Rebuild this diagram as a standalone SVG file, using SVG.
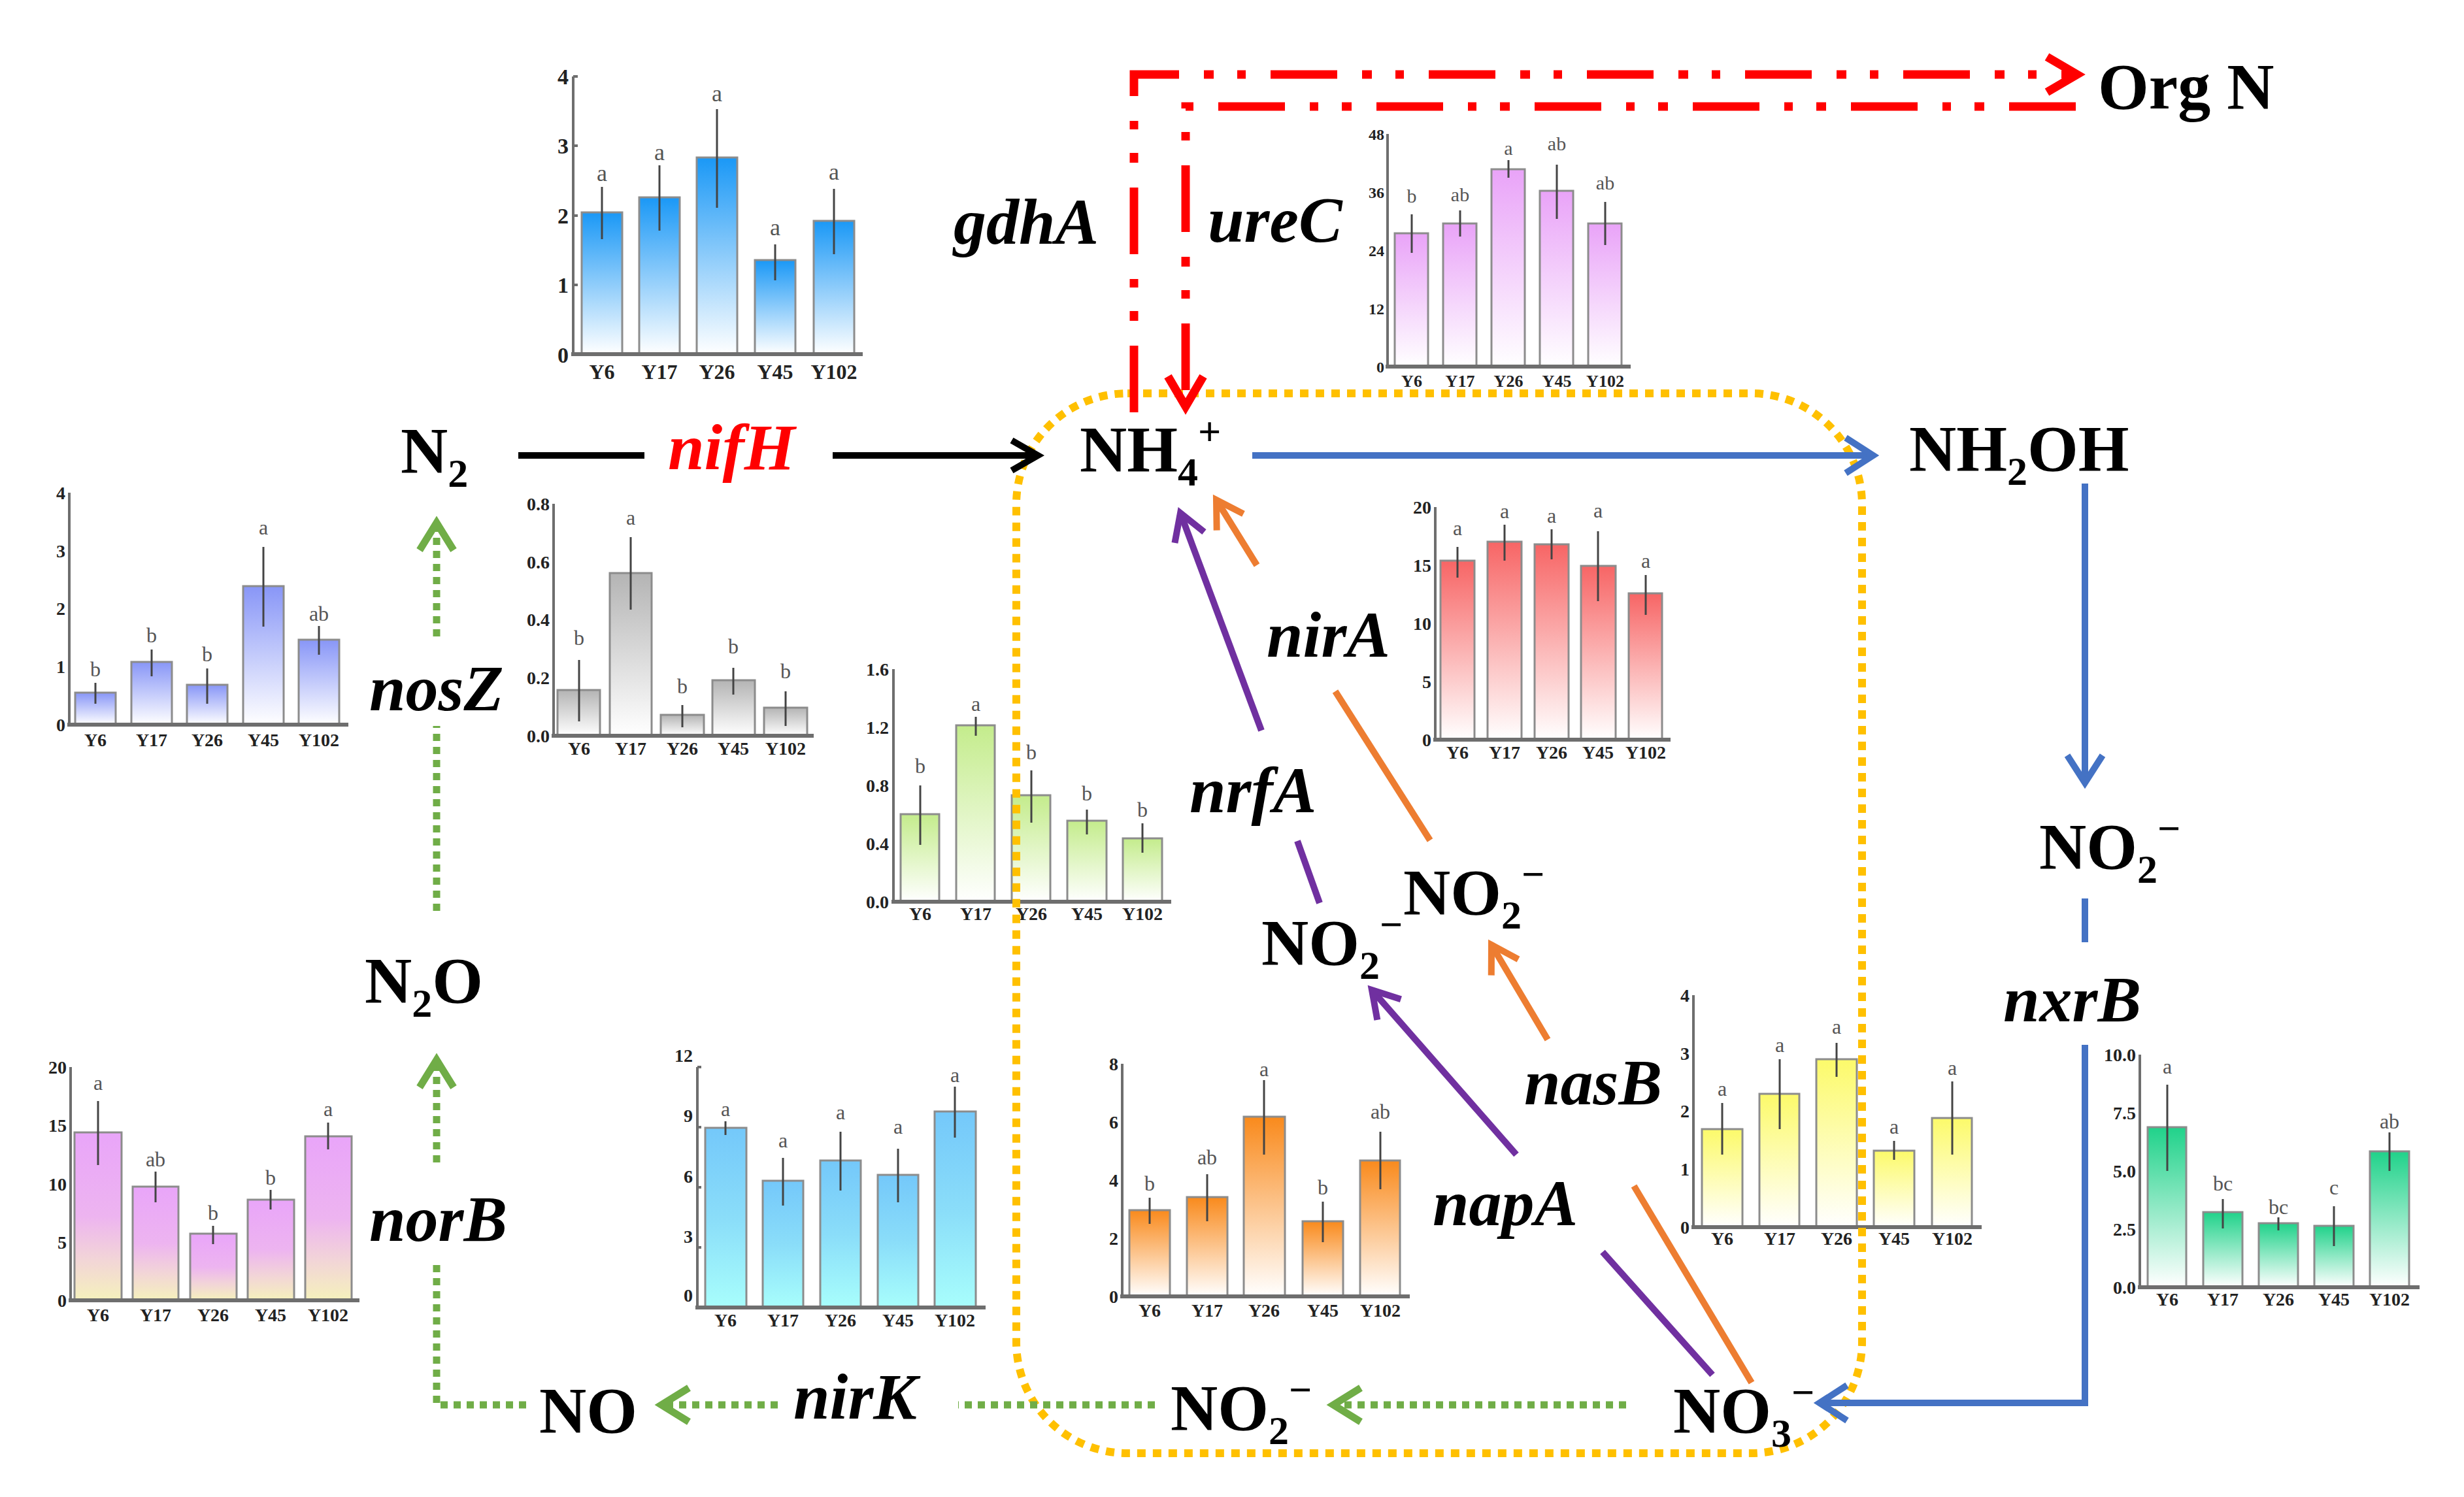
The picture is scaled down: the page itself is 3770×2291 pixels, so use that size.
<svg xmlns="http://www.w3.org/2000/svg" width="3770" height="2291" viewBox="0 0 3770 2291">
<style>
.bar{stroke:#8c8c8c;stroke-width:3}
.err{stroke:#444;stroke-width:3}
.ax{stroke:#6e6e6e;stroke-width:4}
.base{stroke:#6e6e6e;stroke-width:6}
.tk{font-family:"Liberation Serif",serif;font-weight:bold;font-size:28px;fill:#222;text-anchor:end}
.xl{font-family:"Liberation Serif",serif;font-weight:bold;font-size:28px;fill:#222;text-anchor:middle}
.sig{font-family:"Liberation Serif",serif;font-size:32px;fill:#555;text-anchor:middle}
.chem{font-family:"Liberation Serif",serif;font-weight:bold;font-size:100px;fill:#000}
.gene{font-family:"Liberation Serif",serif;font-weight:bold;font-style:italic;font-size:100px;fill:#000}
.sub{font-size:62px}
.red{fill:none;stroke:#FF0000;stroke-width:13;stroke-dasharray:102 38 15 36 13 38}
.blk{fill:none;stroke:#000;stroke-width:10}
.blu{fill:none;stroke:#4472C4;stroke-width:10}
.pur{fill:none;stroke:#7030A0;stroke-width:10}
.org{fill:none;stroke:#ED7D31;stroke-width:10}
.grn{fill:none;stroke:#70AD47;stroke-width:11;stroke-dasharray:11 9}
.box{fill:none;stroke:#FFC000;stroke-width:12;stroke-dasharray:13 11}
</style>
<defs>
<linearGradient id="gBlue" x1="0" y1="0" x2="0" y2="1"><stop offset="0" stop-color="#1A98F6"/><stop offset="1" stop-color="#FFFFFF"/></linearGradient>
<linearGradient id="gViolet" x1="0" y1="0" x2="0" y2="1"><stop offset="0" stop-color="#E9A3F8"/><stop offset="1" stop-color="#FFFFFF"/></linearGradient>
<linearGradient id="gPeri" x1="0" y1="0" x2="0" y2="1"><stop offset="0" stop-color="#8896F7"/><stop offset="1" stop-color="#FFFFFF"/></linearGradient>
<linearGradient id="gGray" x1="0" y1="0" x2="0" y2="1"><stop offset="0" stop-color="#B4B4B4"/><stop offset="1" stop-color="#FFFFFF"/></linearGradient>
<linearGradient id="gGreen" x1="0" y1="0" x2="0" y2="1"><stop offset="0" stop-color="#C4EC8C"/><stop offset="1" stop-color="#FFFFFF"/></linearGradient>
<linearGradient id="gNorB" x1="0" y1="0" x2="0" y2="1"><stop offset="0" stop-color="#E9A5F9"/><stop offset="0.5" stop-color="#EDB4F0"/><stop offset="0.75" stop-color="#F2D4D8"/><stop offset="1" stop-color="#F5F1BC"/></linearGradient>
<linearGradient id="gCyan" x1="0" y1="0" x2="0" y2="1"><stop offset="0" stop-color="#74C8FA"/><stop offset="0.5" stop-color="#8ADDF9"/><stop offset="1" stop-color="#A8FEFC"/></linearGradient>
<linearGradient id="gOrange" x1="0" y1="0" x2="0" y2="1"><stop offset="0" stop-color="#F98A1C"/><stop offset="1" stop-color="#FFFFFF"/></linearGradient>
<linearGradient id="gYellow" x1="0" y1="0" x2="0" y2="1"><stop offset="0" stop-color="#FCFA6A"/><stop offset="1" stop-color="#FFFFFF"/></linearGradient>
<linearGradient id="gRed" x1="0" y1="0" x2="0" y2="1"><stop offset="0" stop-color="#F76565"/><stop offset="1" stop-color="#FFFFFF"/></linearGradient>
<linearGradient id="gTeal" x1="0" y1="0" x2="0" y2="1"><stop offset="0" stop-color="#20D28A"/><stop offset="1" stop-color="#FFFFFF"/></linearGradient>
<marker id="mRed" markerUnits="userSpaceOnUse" markerWidth="80" markerHeight="80" viewBox="-65 -40 80 80" refX="0" refY="0" orient="auto" style="overflow:visible"><path d="M-46,-27 L0,0 L-46,27" fill="none" stroke="#FF0000" stroke-width="13"/></marker>
<marker id="mBlk" markerUnits="userSpaceOnUse" markerWidth="80" markerHeight="80" viewBox="-65 -40 80 80" refX="0" refY="0" orient="auto" style="overflow:visible"><path d="M-40,-23 L0,0 L-40,23" fill="none" stroke="#000" stroke-width="10"/></marker>
<marker id="mBlu" markerUnits="userSpaceOnUse" markerWidth="80" markerHeight="80" viewBox="-65 -40 80 80" refX="0" refY="0" orient="auto" style="overflow:visible"><path d="M-42,-27 L0,0 L-42,27" fill="none" stroke="#4472C4" stroke-width="10"/></marker>
<marker id="mPur" markerUnits="userSpaceOnUse" markerWidth="80" markerHeight="80" viewBox="-65 -40 80 80" refX="0" refY="0" orient="auto" style="overflow:visible"><path d="M-40,-24 L0,0 L-40,24" fill="none" stroke="#7030A0" stroke-width="10"/></marker>
<marker id="mOrg" markerUnits="userSpaceOnUse" markerWidth="80" markerHeight="80" viewBox="-65 -40 80 80" refX="0" refY="0" orient="auto" style="overflow:visible"><path d="M-40,-24 L0,0 L-40,24" fill="none" stroke="#ED7D31" stroke-width="10"/></marker>
<marker id="mGrn" markerUnits="userSpaceOnUse" markerWidth="80" markerHeight="80" viewBox="-65 -40 80 80" refX="0" refY="0" orient="auto" style="overflow:visible"><path d="M-42,-26 L0,0 L-42,26" fill="none" stroke="#70AD47" stroke-width="11" stroke-dasharray="none"/></marker>
</defs>
<rect width="3770" height="2291" fill="#fff"/>

<!-- Chart gdhA -->
<g id="chart-gdhA">
<g fill="url(#gBlue)" class="bar">
<rect x="890" y="325" width="62" height="217"/><rect x="978" y="302" width="62" height="240"/><rect x="1066" y="241" width="62" height="301"/><rect x="1155" y="398" width="62" height="144"/><rect x="1245" y="338" width="62" height="204"/>
</g>
<line class="ax" x1="877" y1="117" x2="877" y2="542"/><line class="base" x1="874" y1="542" x2="1320" y2="542"/>
<g class="ax"><line x1="877" y1="117" x2="884" y2="117"/><line x1="877" y1="223" x2="884" y2="223"/><line x1="877" y1="330" x2="884" y2="330"/><line x1="877" y1="436" x2="884" y2="436"/></g>
<g class="err"><line x1="921" y1="286" x2="921" y2="366"/><line x1="1009" y1="253" x2="1009" y2="353"/><line x1="1097" y1="167" x2="1097" y2="318"/><line x1="1186" y1="374" x2="1186" y2="429"/><line x1="1276" y1="289" x2="1276" y2="389"/></g>
<g class="tk" style="font-size:34px"><text x="870" y="129">4</text><text x="870" y="235">3</text><text x="870" y="342">2</text><text x="870" y="448">1</text><text x="870" y="555">0</text></g>
<g class="sig" style="font-size:36px"><text x="921" y="277">a</text><text x="1009" y="245">a</text><text x="1097" y="155">a</text><text x="1186" y="360">a</text><text x="1276" y="275">a</text></g>
<g class="xl" style="font-size:32px"><text x="921" y="580">Y6</text><text x="1009" y="580">Y17</text><text x="1097" y="580">Y26</text><text x="1186" y="580">Y45</text><text x="1276" y="580">Y102</text></g>
</g>

<!-- Chart ureC -->
<g id="chart-ureC">
<g fill="url(#gViolet)" class="bar">
<rect x="2134" y="357" width="51" height="204"/><rect x="2208" y="342" width="51" height="219"/><rect x="2282" y="259" width="51" height="302"/><rect x="2356" y="292" width="51" height="269"/><rect x="2430" y="342" width="51" height="219"/>
</g>
<line class="ax" x1="2123" y1="205" x2="2123" y2="561"/><line class="base" x1="2120" y1="561" x2="2495" y2="561"/>
<g class="err"><line x1="2160" y1="328" x2="2160" y2="387"/><line x1="2234" y1="322" x2="2234" y2="362"/><line x1="2308" y1="245" x2="2308" y2="272"/><line x1="2382" y1="252" x2="2382" y2="335"/><line x1="2456" y1="309" x2="2456" y2="375"/></g>
<g class="tk" style="font-size:24px"><text x="2118" y="214">48</text><text x="2118" y="303">36</text><text x="2118" y="392">24</text><text x="2118" y="481">12</text><text x="2118" y="570">0</text></g>
<g class="sig" style="font-size:30px"><text x="2160" y="310">b</text><text x="2234" y="308">ab</text><text x="2308" y="237">a</text><text x="2382" y="230">ab</text><text x="2456" y="290">ab</text></g>
<g class="xl" style="font-size:26px"><text x="2160" y="592">Y6</text><text x="2234" y="592">Y17</text><text x="2308" y="592">Y26</text><text x="2382" y="592">Y45</text><text x="2456" y="592">Y102</text></g>
</g>

<!-- Chart nosZ -->
<g id="chart-nosZ">
<g fill="url(#gPeri)" class="bar">
<rect x="115" y="1060" width="62" height="49"/><rect x="201" y="1013" width="62" height="96"/><rect x="286" y="1048" width="62" height="61"/><rect x="372" y="897" width="62" height="212"/><rect x="457" y="979" width="62" height="130"/>
</g>
<line class="ax" x1="106" y1="754" x2="106" y2="1109"/><line class="base" x1="103" y1="1109" x2="533" y2="1109"/>
<g class="err"><line x1="146" y1="1045" x2="146" y2="1077"/><line x1="232" y1="994" x2="232" y2="1035"/><line x1="317" y1="1023" x2="317" y2="1077"/><line x1="403" y1="837" x2="403" y2="959"/><line x1="488" y1="958" x2="488" y2="1002"/></g>
<g class="tk"><text x="100" y="764">4</text><text x="100" y="853">3</text><text x="100" y="941">2</text><text x="100" y="1030">1</text><text x="100" y="1119">0</text></g>
<g class="sig"><text x="146" y="1035">b</text><text x="232" y="983">b</text><text x="317" y="1012">b</text><text x="403" y="818">a</text><text x="488" y="950">ab</text></g>
<g class="xl"><text x="146" y="1142">Y6</text><text x="232" y="1142">Y17</text><text x="317" y="1142">Y26</text><text x="403" y="1142">Y45</text><text x="488" y="1142">Y102</text></g>
</g>

<!-- Chart nifH -->
<g id="chart-nifH">
<g fill="url(#gGray)" class="bar">
<rect x="853" y="1056" width="65" height="70"/><rect x="933" y="877" width="64" height="249"/><rect x="1011" y="1094" width="66" height="32"/><rect x="1090" y="1041" width="65" height="85"/><rect x="1169" y="1083" width="66" height="43"/>
</g>
<line class="ax" x1="847" y1="771" x2="847" y2="1126"/><line class="base" x1="844" y1="1126" x2="1245" y2="1126"/>
<g class="err"><line x1="886" y1="1010" x2="886" y2="1104"/><line x1="965" y1="822" x2="965" y2="933"/><line x1="1044" y1="1079" x2="1044" y2="1113"/><line x1="1122" y1="1022" x2="1122" y2="1063"/><line x1="1202" y1="1058" x2="1202" y2="1111"/></g>
<g class="tk"><text x="841" y="781">0.8</text><text x="841" y="870">0.6</text><text x="841" y="958">0.4</text><text x="841" y="1047">0.2</text><text x="841" y="1136">0.0</text></g>
<g class="sig"><text x="886" y="987">b</text><text x="965" y="803">a</text><text x="1044" y="1061">b</text><text x="1122" y="1000">b</text><text x="1202" y="1038">b</text></g>
<g class="xl"><text x="886" y="1155">Y6</text><text x="965" y="1155">Y17</text><text x="1044" y="1155">Y26</text><text x="1122" y="1155">Y45</text><text x="1202" y="1155">Y102</text></g>
</g>

<!-- Chart nrfA -->
<g id="chart-nrfA">
<g fill="url(#gGreen)" class="bar">
<rect x="1378" y="1246" width="59" height="134"/><rect x="1463" y="1110" width="59" height="270"/><rect x="1548" y="1217" width="59" height="163"/><rect x="1633" y="1256" width="60" height="124"/><rect x="1718" y="1283" width="60" height="97"/>
</g>
<line class="ax" x1="1367" y1="1024" x2="1367" y2="1380"/><line class="base" x1="1364" y1="1380" x2="1792" y2="1380"/>
<g class="err"><line x1="1408" y1="1202" x2="1408" y2="1293"/><line x1="1493" y1="1097" x2="1493" y2="1126"/><line x1="1578" y1="1179" x2="1578" y2="1259"/><line x1="1663" y1="1239" x2="1663" y2="1277"/><line x1="1748" y1="1260" x2="1748" y2="1305"/></g>
<g class="tk"><text x="1360" y="1034">1.6</text><text x="1360" y="1123">1.2</text><text x="1360" y="1212">0.8</text><text x="1360" y="1301">0.4</text><text x="1360" y="1390">0.0</text></g>
<g class="sig"><text x="1408" y="1183">b</text><text x="1493" y="1088">a</text><text x="1578" y="1162">b</text><text x="1663" y="1225">b</text><text x="1748" y="1250">b</text></g>
<g class="xl"><text x="1408" y="1408">Y6</text><text x="1493" y="1408">Y17</text><text x="1578" y="1408">Y26</text><text x="1663" y="1408">Y45</text><text x="1748" y="1408">Y102</text></g>
</g>

<!-- Chart norB -->
<g id="chart-norB">
<g fill="url(#gNorB)" class="bar">
<rect x="114" y="1733" width="72" height="257"/><rect x="203" y="1816" width="70" height="174"/><rect x="291" y="1888" width="71" height="102"/><rect x="379" y="1836" width="71" height="154"/><rect x="467" y="1739" width="71" height="251"/>
</g>
<line class="ax" x1="108" y1="1633" x2="108" y2="1990"/><line class="base" x1="105" y1="1990" x2="550" y2="1990"/>
<g class="err"><line x1="150" y1="1685" x2="150" y2="1783"/><line x1="238" y1="1793" x2="238" y2="1840"/><line x1="326" y1="1876" x2="326" y2="1904"/><line x1="414" y1="1821" x2="414" y2="1851"/><line x1="502" y1="1718" x2="502" y2="1759"/></g>
<g class="tk"><text x="102" y="1643">20</text><text x="102" y="1732">15</text><text x="102" y="1822">10</text><text x="102" y="1911">5</text><text x="102" y="2000">0</text></g>
<g class="sig"><text x="150" y="1668">a</text><text x="238" y="1785">ab</text><text x="326" y="1867">b</text><text x="414" y="1813">b</text><text x="502" y="1708">a</text></g>
<g class="xl"><text x="150" y="2022">Y6</text><text x="238" y="2022">Y17</text><text x="326" y="2022">Y26</text><text x="414" y="2022">Y45</text><text x="502" y="2022">Y102</text></g>
</g>

<!-- Chart nirK -->
<g id="chart-nirK">
<g fill="url(#gCyan)" class="bar">
<rect x="1079" y="1726" width="63" height="275"/><rect x="1167" y="1807" width="62" height="194"/><rect x="1255" y="1776" width="62" height="225"/><rect x="1343" y="1798" width="62" height="203"/><rect x="1430" y="1701" width="63" height="300"/>
</g>
<line class="ax" x1="1067" y1="1633" x2="1067" y2="2001"/><line class="base" x1="1064" y1="2001" x2="1508" y2="2001"/>
<g class="ax"><line x1="1067" y1="1633" x2="1073" y2="1633"/><line x1="1067" y1="1725" x2="1073" y2="1725"/><line x1="1067" y1="1817" x2="1073" y2="1817"/><line x1="1067" y1="1909" x2="1073" y2="1909"/></g>
<g class="err"><line x1="1110" y1="1716" x2="1110" y2="1737"/><line x1="1198" y1="1772" x2="1198" y2="1845"/><line x1="1286" y1="1732" x2="1286" y2="1822"/><line x1="1374" y1="1758" x2="1374" y2="1840"/><line x1="1461" y1="1663" x2="1461" y2="1741"/></g>
<g class="tk"><text x="1060" y="1625">12</text><text x="1060" y="1717">9</text><text x="1060" y="1810">6</text><text x="1060" y="1902">3</text><text x="1060" y="1992">0</text></g>
<g class="sig"><text x="1110" y="1708">a</text><text x="1198" y="1756">a</text><text x="1286" y="1713">a</text><text x="1374" y="1735">a</text><text x="1461" y="1656">a</text></g>
<g class="xl"><text x="1110" y="2030">Y6</text><text x="1198" y="2030">Y17</text><text x="1286" y="2030">Y26</text><text x="1374" y="2030">Y45</text><text x="1461" y="2030">Y102</text></g>
</g>

<!-- Chart napA -->
<g id="chart-napA">
<g fill="url(#gOrange)" class="bar">
<rect x="1728" y="1852" width="62" height="132"/><rect x="1816" y="1832" width="62" height="152"/><rect x="1903" y="1709" width="63" height="275"/><rect x="1993" y="1869" width="62" height="115"/><rect x="2081" y="1776" width="61" height="208"/>
</g>
<line class="ax" x1="1717" y1="1628" x2="1717" y2="1984"/><line class="base" x1="1714" y1="1984" x2="2157" y2="1984"/>
<g class="err"><line x1="1759" y1="1833" x2="1759" y2="1873"/><line x1="1847" y1="1797" x2="1847" y2="1869"/><line x1="1934" y1="1653" x2="1934" y2="1767"/><line x1="2024" y1="1839" x2="2024" y2="1901"/><line x1="2112" y1="1732" x2="2112" y2="1820"/></g>
<g class="tk"><text x="1711" y="1638">8</text><text x="1711" y="1727">6</text><text x="1711" y="1816">4</text><text x="1711" y="1905">2</text><text x="1711" y="1994">0</text></g>
<g class="sig"><text x="1759" y="1822">b</text><text x="1847" y="1782">ab</text><text x="1934" y="1647">a</text><text x="2024" y="1828">b</text><text x="2112" y="1712">ab</text></g>
<g class="xl"><text x="1759" y="2015">Y6</text><text x="1847" y="2015">Y17</text><text x="1934" y="2015">Y26</text><text x="2024" y="2015">Y45</text><text x="2112" y="2015">Y102</text></g>
</g>

<!-- Chart nasB -->
<g id="chart-nasB">
<g fill="url(#gYellow)" class="bar">
<rect x="2604" y="1728" width="62" height="150"/><rect x="2692" y="1674" width="61" height="204"/><rect x="2779" y="1621" width="62" height="257"/><rect x="2867" y="1761" width="62" height="117"/><rect x="2956" y="1711" width="61" height="167"/>
</g>
<line class="ax" x1="2591" y1="1523" x2="2591" y2="1878"/><line class="base" x1="2588" y1="1878" x2="3032" y2="1878"/>
<g class="err"><line x1="2635" y1="1688" x2="2635" y2="1767"/><line x1="2723" y1="1621" x2="2723" y2="1728"/><line x1="2810" y1="1596" x2="2810" y2="1648"/><line x1="2898" y1="1746" x2="2898" y2="1775"/><line x1="2987" y1="1655" x2="2987" y2="1767"/></g>
<g class="tk"><text x="2585" y="1533">4</text><text x="2585" y="1622">3</text><text x="2585" y="1710">2</text><text x="2585" y="1799">1</text><text x="2585" y="1888">0</text></g>
<g class="sig"><text x="2635" y="1677">a</text><text x="2723" y="1610">a</text><text x="2810" y="1582">a</text><text x="2898" y="1735">a</text><text x="2987" y="1645">a</text></g>
<g class="xl"><text x="2635" y="1905">Y6</text><text x="2723" y="1905">Y17</text><text x="2810" y="1905">Y26</text><text x="2898" y="1905">Y45</text><text x="2987" y="1905">Y102</text></g>
</g>

<!-- Chart nirA -->
<g id="chart-nirA">
<g fill="url(#gRed)" class="bar">
<rect x="2204" y="858" width="52" height="274"/><rect x="2276" y="829" width="52" height="303"/><rect x="2348" y="833" width="52" height="299"/><rect x="2419" y="866" width="53" height="266"/><rect x="2492" y="908" width="51" height="224"/>
</g>
<line class="ax" x1="2196" y1="776" x2="2196" y2="1132"/><line class="base" x1="2193" y1="1132" x2="2556" y2="1132"/>
<g class="err"><line x1="2230" y1="837" x2="2230" y2="884"/><line x1="2302" y1="803" x2="2302" y2="858"/><line x1="2374" y1="810" x2="2374" y2="856"/><line x1="2445" y1="813" x2="2445" y2="920"/><line x1="2518" y1="880" x2="2518" y2="941"/></g>
<g class="tk"><text x="2190" y="786">20</text><text x="2190" y="875">15</text><text x="2190" y="964">10</text><text x="2190" y="1053">5</text><text x="2190" y="1142">0</text></g>
<g class="sig"><text x="2230" y="819">a</text><text x="2302" y="793">a</text><text x="2374" y="800">a</text><text x="2445" y="792">a</text><text x="2518" y="869">a</text></g>
<g class="xl"><text x="2230" y="1161">Y6</text><text x="2302" y="1161">Y17</text><text x="2374" y="1161">Y26</text><text x="2445" y="1161">Y45</text><text x="2518" y="1161">Y102</text></g>
</g>

<!-- Chart nxrB -->
<g id="chart-nxrB">
<g fill="url(#gTeal)" class="bar">
<rect x="3286" y="1725" width="59" height="245"/><rect x="3371" y="1855" width="60" height="115"/><rect x="3456" y="1872" width="60" height="98"/><rect x="3541" y="1876" width="60" height="94"/><rect x="3626" y="1762" width="60" height="208"/>
</g>
<line class="ax" x1="3274" y1="1614" x2="3274" y2="1970"/><line class="base" x1="3271" y1="1970" x2="3702" y2="1970"/>
<g class="err"><line x1="3316" y1="1660" x2="3316" y2="1792"/><line x1="3401" y1="1835" x2="3401" y2="1880"/><line x1="3486" y1="1863" x2="3486" y2="1883"/><line x1="3571" y1="1846" x2="3571" y2="1907"/><line x1="3656" y1="1733" x2="3656" y2="1792"/></g>
<g class="tk"><text x="3268" y="1624">10.0</text><text x="3268" y="1713">7.5</text><text x="3268" y="1802">5.0</text><text x="3268" y="1891">2.5</text><text x="3268" y="1980">0.0</text></g>
<g class="sig"><text x="3316" y="1643">a</text><text x="3401" y="1822">bc</text><text x="3486" y="1858">bc</text><text x="3571" y="1828">c</text><text x="3656" y="1727">ab</text></g>
<g class="xl"><text x="3316" y="1998">Y6</text><text x="3401" y="1998">Y17</text><text x="3486" y="1998">Y26</text><text x="3571" y="1998">Y45</text><text x="3656" y="1998">Y102</text></g>
</g>

<!-- connectors -->
<g id="connectors">
<rect class="box" x="1555" y="602" width="1294" height="1622" rx="170" ry="170"/>
<path class="red" d="M1735,631 V114 H3178" marker-end="url(#mRed)"/>
<path class="red" d="M3176,163 H1814 V622" marker-end="url(#mRed)"/>
<path class="blk" d="M793,697 H986"/>
<path class="blk" d="M1274,697 H1588" marker-end="url(#mBlk)"/>
<path class="blu" d="M1916,697 H2866" marker-end="url(#mBlu)"/>
<path class="blu" d="M3190,740 V1198" marker-end="url(#mBlu)"/>
<path class="blu" d="M3190,1375 V1442"/>
<path class="blu" d="M3190,1599 V2147 H2784" marker-end="url(#mBlu)"/>
<path class="pur" d="M2019,1382 L1985,1287"/>
<path class="pur" d="M1930,1118 L1806,785" marker-end="url(#mPur)"/>
<path class="pur" d="M2620,2104 L2452,1916"/>
<path class="pur" d="M2320,1767 L2099,1515" marker-end="url(#mPur)"/>
<path class="org" d="M2188,1286 L2043,1058"/>
<path class="org" d="M1923,865 L1861,765" marker-end="url(#mOrg)"/>
<path class="org" d="M2680,2116 L2500,1815"/>
<path class="org" d="M2368,1591 L2282,1446" marker-end="url(#mOrg)"/>
<path class="grn" d="M2488,2150 H2040" marker-end="url(#mGrn)"/>
<path class="grn" d="M1767,2150 H1466"/>
<path class="grn" d="M1190,2150 H1012" marker-end="url(#mGrn)"/>
<path class="grn" d="M805,2150 H668 V1935"/>
<path class="grn" d="M668,1779 V1622" marker-end="url(#mGrn)"/>
<path class="grn" d="M668,1394 V1111"/>
<path class="grn" d="M668,974 V800" marker-end="url(#mGrn)"/>
</g>

<!-- nodes -->
<g id="n-OrgN"><text class="chem" x="3210" y="166">Org N</text></g>
<g id="n-N2"><text class="chem" x="613" y="723">N<tspan class="sub" dy="22">2</tspan></text></g>
<g id="n-NH4"><text class="chem" x="1652" y="721">NH<tspan class="sub" dy="22">4</tspan><tspan class="sub" dy="-62">+</tspan></text></g>
<g id="n-NH2OH"><text class="chem" x="2921" y="720">NH<tspan class="sub" dy="22">2</tspan><tspan dy="-22">OH</tspan></text></g>
<g id="n-NO2-right"><text class="chem" x="3120" y="1329">NO<tspan class="sub" dy="22">2</tspan><tspan class="sub" dy="-62">−</tspan></text></g>
<g id="n-N2O"><text class="chem" x="558" y="1534">N<tspan class="sub" dy="22">2</tspan><tspan dy="-22">O</tspan></text></g>
<g id="n-NO2-upper"><text class="chem" x="2147" y="1399">NO<tspan class="sub" dy="22">2</tspan><tspan class="sub" dy="-62">−</tspan></text></g>
<g id="n-NO2-lower"><text class="chem" x="1930" y="1476">NO<tspan class="sub" dy="22">2</tspan><tspan class="sub" dy="-62">−</tspan></text></g>
<g id="n-NO"><text class="chem" x="825" y="2192">NO</text></g>
<g id="n-NO2-bottom"><text class="chem" x="1791" y="2188">NO<tspan class="sub" dy="22">2</tspan><tspan class="sub" dy="-62">−</tspan></text></g>
<g id="n-NO3"><text class="chem" x="2560" y="2192">NO<tspan class="sub" dy="22">3</tspan><tspan class="sub" dy="-62">−</tspan></text></g>

<g id="genes">
<text class="gene" x="1459" y="373">gdhA</text>
<text class="gene" x="1848" y="370">ureC</text>
<text class="gene" x="1022" y="718" style="fill:#FF0000">nifH</text>
<text class="gene" x="565" y="1087">nosZ</text>
<text class="gene" x="565" y="1899">norB</text>
<text class="gene" x="1214" y="2171">nirK</text>
<text class="gene" x="1938" y="1005">nirA</text>
<text class="gene" x="1820" y="1243">nrfA</text>
<text class="gene" x="2332" y="1690">nasB</text>
<text class="gene" x="2192" y="1875">napA</text>
<text class="gene" x="3065" y="1563">nxrB</text>
</g>
</svg>
